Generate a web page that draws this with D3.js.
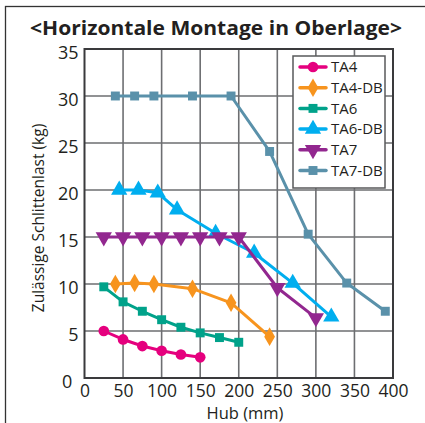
<!DOCTYPE html>
<html>
<head>
<meta charset="utf-8">
<script src="https://cdn.jsdelivr.net/npm/d3@7"></script>
<style>
  html, body { margin: 0; padding: 0; background: #fff; }
  svg { display: block; font-family: "Open Sans", "Noto Sans", sans-serif; }
</style>
</head>
<body>
<svg id="chart" width="425" height="423"></svg>
<script>
// Hub (mm) and permissible slide load (kg) per model
const seriesNames = ["TA4", "TA4-DB", "TA6", "TA6-DB", "TA7", "TA7-DB"];
const ta4Hub = [25, 50, 75, 100, 125, 150];
const ta4Load = [5.0, 4.1, 3.4, 2.9, 2.5, 2.2];
const ta4dbHub = [40, 65, 90, 140, 190, 240];
const ta4dbLoad = [10.0, 10.1, 10.0, 9.5, 8.0, 4.4];
const ta6Hub = [25, 50, 75, 100, 125, 150, 175, 200];
const ta6Load = [9.7, 8.1, 7.1, 6.2, 5.4, 4.8, 4.3, 3.8];
const ta6dbHub = [45, 70, 95, 120, 170, 220, 270, 320];
const ta6dbLoad = [20.0, 20.0, 19.7, 17.9, 15.4, 13.3, 10.1, 6.5];
const ta7Hub = [25, 50, 75, 100, 125, 150, 175, 200, 250, 300];
const ta7Load = [15, 15, 15, 15, 15, 15, 15, 15, 9.6, 6.4];
const ta7dbHub = [40, 65, 90, 140, 190, 240, 290, 340, 390];
const ta7dbLoad = [30, 30, 30, 30, 30, 24.1, 15.3, 10.1, 7.1];
const xTicks = [0, 50, 100, 150, 200, 250, 300, 350, 400];
const yTicks = [0, 5, 10, 15, 20, 25, 30, 35];
const seriesColors = ["#e5007e", "#f7941e", "#00a28a", "#00aeef", "#92278f", "#5a91aa"];
const seriesSymbols = [d3.symbolCircle, d3.symbolDiamond, d3.symbolSquare, d3.symbolTriangle, "triDown", d3.symbolSquare];

const series = [
  { hub: ta4Hub, load: ta4Load },
  { hub: ta4dbHub, load: ta4dbLoad },
  { hub: ta6Hub, load: ta6Load },
  { hub: ta6dbHub, load: ta6dbLoad },
  { hub: ta7Hub, load: ta7Load },
  { hub: ta7dbHub, load: ta7dbLoad }
].map((s, i) => ({
  name: seriesNames[i], color: seriesColors[i], symbol: seriesSymbols[i],
  points: s.hub.map((h, j) => ({ x: h, y: s.load[j] }))
}));

const svg = d3.select("#chart");
const plot = { left: 84.5, right: 393, top: 49, bottom: 378 };

const x = d3.scaleLinear().domain([0, 400]).range([plot.left, plot.right]);
const y = d3.scaleLinear().domain([0, 35]).range([plot.bottom, plot.top]);

// outer frame
svg.append("rect").attr("x", 5.5).attr("y", 6.5).attr("width", 440).attr("height", 440)
  .attr("fill", "none").attr("stroke", "#333").attr("stroke-width", 1.3);

// title
svg.append("text").attr("x", 216).attr("y", 34.5).attr("text-anchor", "middle")
  .attr("font-size", 20).attr("font-weight", 700).attr("fill", "#231f20")
  .attr("textLength", 372).attr("lengthAdjust", "spacingAndGlyphs")
  .text("<Horizontale Montage in Oberlage>");

// grid
const grid = svg.append("g").attr("stroke", "#6d6e71").attr("stroke-width", 1.6);
grid.selectAll("line.v").data(xTicks.slice(1, -1)).join("line")
  .attr("x1", d => x(d)).attr("x2", d => x(d)).attr("y1", plot.top).attr("y2", plot.bottom);
grid.selectAll("line.h").data(yTicks.slice(1, -1)).join("line")
  .attr("x1", plot.left).attr("x2", plot.right).attr("y1", d => y(d)).attr("y2", d => y(d));

// plot border
svg.append("rect").attr("x", plot.left).attr("y", plot.top)
  .attr("width", plot.right - plot.left).attr("height", plot.bottom - plot.top)
  .attr("fill", "none").attr("stroke", "#3a3a3c").attr("stroke-width", 2);

// axes (labels only; the border draws the axis lines)
const xAxis = svg.append("g").attr("transform", `translate(0,${plot.bottom})`)
  .call(d3.axisBottom(x).tickValues(xTicks).tickSize(0).tickPadding(7));
xAxis.select(".domain").remove();
xAxis.selectAll("text").attr("font-size", 17.5).attr("fill", "#231f20")
  .attr("font-family", "'Open Sans', sans-serif").attr("dy", "0.71em");

const yAxis = svg.append("g").attr("transform", `translate(${plot.left},0)`)
  .call(d3.axisLeft(y).tickValues(yTicks).tickSize(0).tickPadding(6));
yAxis.select(".domain").remove();
yAxis.selectAll("text").attr("font-size", 18).attr("fill", "#231f20")
  .attr("font-family", "'Open Sans', sans-serif")
  .attr("dx", d => d === 0 ? "-0.35em" : 0)
  .attr("dy", "0.55em");

// axis titles
svg.append("text").attr("x", 245).attr("y", 418.5).attr("text-anchor", "middle")
  .attr("font-size", 16.5).attr("fill", "#231f20").text("Hub (mm)");
svg.append("text").attr("transform", "translate(43.5,218) rotate(-90)")
  .attr("text-anchor", "middle").attr("font-size", 15.5).attr("fill", "#231f20")
  .text("Zulässige Schlittenlast (kg)");

// markers
function markerPath(sym, size) {
  if (sym === "triDown") return d3.symbol(d3.symbolTriangle, size)();
  return d3.symbol(sym, size)();
}
function markerSize(sym) {
  if (sym === d3.symbolSquare) return 80;
  if (sym === d3.symbolCircle) return 90;
  if (sym === d3.symbolDiamond) return 100;
  return 115;
}

const line = d3.line().x(d => x(d.x)).y(d => y(d.y));

series.forEach(s => {
  const g = svg.append("g");
  g.append("path").datum(s.points).attr("d", line)
    .attr("fill", "none").attr("stroke", s.color).attr("stroke-width", 3)
    .attr("stroke-linejoin", "round");
  g.selectAll("path.m").data(s.points).join("path").attr("class", "m")
    .attr("d", markerPath(s.symbol, markerSize(s.symbol)))
    .attr("transform", d => `translate(${x(d.x)},${y(d.y)})` + (s.symbol === "triDown" ? " rotate(180)" : ""))
    .attr("fill", s.color);
});

// legend
const leg = svg.append("g");
leg.append("rect").attr("x", 293).attr("y", 56).attr("width", 92).attr("height", 132)
  .attr("fill", "#fff").attr("stroke", "#58595b").attr("stroke-width", 1.5);
series.forEach((s, i) => {
  const ly = 67 + i * 20.7;
  leg.append("line").attr("x1", 300).attr("x2", 326).attr("y1", ly).attr("y2", ly)
    .attr("stroke", s.color).attr("stroke-width", 3.5).attr("stroke-linecap", "round");
  leg.append("path").attr("d", markerPath(s.symbol, markerSize(s.symbol)))
    .attr("transform", `translate(313,${ly})` + (s.symbol === "triDown" ? " rotate(180)" : ""))
    .attr("fill", s.color);
  leg.append("text").attr("x", 331).attr("y", ly).attr("dy", "0.35em")
    .attr("font-size", 15).attr("fill", "#231f20").text(s.name);
});
</script>
</body>
</html>
